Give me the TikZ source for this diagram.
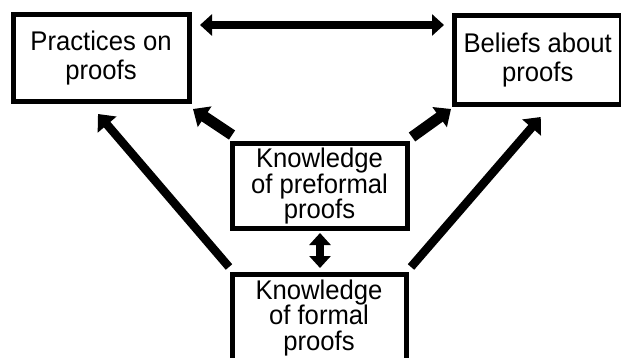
\documentclass[tikz,border=0pt]{standalone}
\usepackage{fontspec}
\setmainfont{Liberation Sans}[FakeStretch=0.95]
\usetikzlibrary{arrows.meta,calc}
\begin{document}
\begin{tikzpicture}[x=1pt,y=-1pt,
  box/.style={draw,line width=5pt,outer sep=0pt,inner sep=0pt,align=center,
    font=\fontsize{27}{25.5}\selectfont},
  topbox/.style={box,font=\fontsize{27}{29}\selectfont},
  thick arrow/.style={line width=#1,-{Triangle[length=14pt,width=24pt]}},
  dbl arrow/.style={line width=#1,{Triangle[length=12pt,width=21pt]}-{Triangle[length=12pt,width=21pt]}}]
\useasboundingbox (0,0) rectangle (621,358);
\node[topbox,minimum width=176pt,minimum height=87pt] (prac) at (101,58.5) {Practices on\\proofs};
\node[topbox,minimum width=167.5pt,minimum height=89pt] (bel) at (537.75,60.5) {Beliefs about\\proofs};
\node[box,minimum width=175pt,minimum height=85pt] (mid) at (319.5,186.5) {Knowledge\\of preformal\\proofs};
\node[box,minimum width=174pt,minimum height=88pt] (bot) at (319,318) {Knowledge\\of formal\\proofs};
\draw[dbl arrow=8pt] ($(prac.north east)+(11,10)$) -- ($(bel.north west)+(-10,9)$);
\draw[dbl arrow=8pt] ($(mid.south)+(0.5,4)$) -- ($(bot.north)+(1,-6)$);
\draw[thick arrow=8.5pt] ($(bot.north west)+(-3,-7)$) -- ($(prac.south)+(-3,12)$);
\draw[thick arrow=8.5pt] ($(bot.north east)+(5,-7)$) -- ($(bel.south)+(3,12)$);
\draw[thick arrow=11pt] ($(mid.north west)+(0,-9)$) -- ($(prac.south east)+(4,7)$);
\draw[thick arrow=11pt] ($(mid.north east)+(5,-7)$) -- ($(bel.south west)+(-3,4)$);
\end{tikzpicture}
\end{document}
